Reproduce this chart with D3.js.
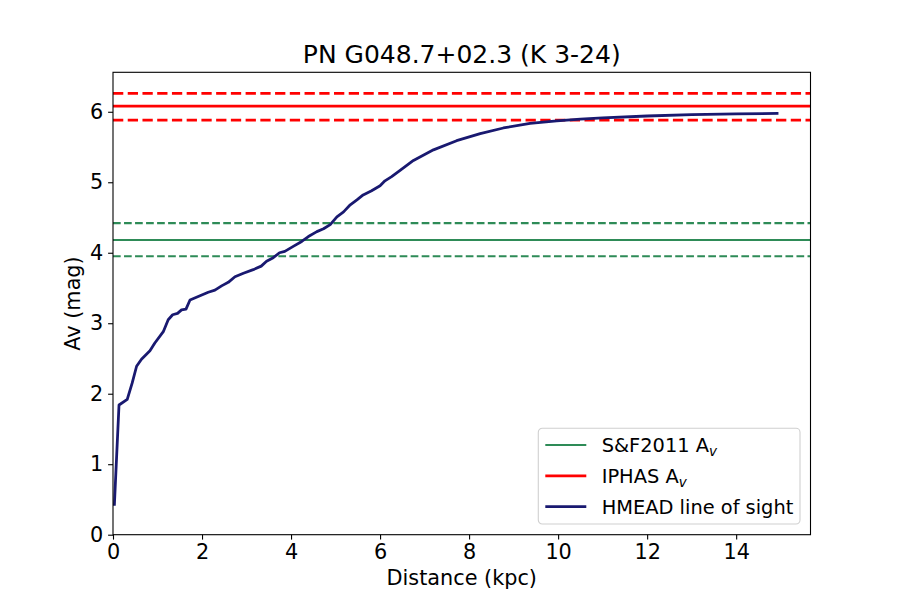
<!DOCTYPE html>
<html>
<head>
<meta charset="utf-8">
<script src="https://cdn.jsdelivr.net/npm/d3@7"></script>
<style>
  body { margin: 0; background: #fff; }
  svg { font-family: "DejaVu Sans", sans-serif; }
</style>
</head>
<body>
<svg id="chart" width="900" height="600"></svg>
<script>
// HMEAD line of sight
const distance = [0.03, 0.135, 0.32, 0.43, 0.53, 0.64, 0.83, 0.94, 1.13, 1.24, 1.34, 1.45, 1.54, 1.64,
  1.73, 1.955, 2.14, 2.29, 2.44, 2.59, 2.74, 2.93, 3.15, 3.33, 3.45, 3.6, 3.74, 3.86, 4.05, 4.24,
  4.39, 4.58, 4.73, 4.88, 5.03, 5.18, 5.33, 5.48, 5.62, 5.81, 6.0, 6.11, 6.26, 6.45, 6.75, 7.2,
  7.72, 8.25, 8.77, 9.37, 9.97, 10.5, 11.0, 12.0, 13.0, 14.0, 14.95];
const av = [0.41, 1.84, 1.92, 2.15, 2.39, 2.49, 2.61, 2.72, 2.88, 3.05, 3.12, 3.14, 3.19, 3.20,
  3.33, 3.39, 3.44, 3.47, 3.53, 3.58, 3.66, 3.71, 3.76, 3.81, 3.88, 3.93, 4.00, 4.02, 4.09, 4.16,
  4.23, 4.30, 4.34, 4.40, 4.51, 4.58, 4.68, 4.75, 4.82, 4.88, 4.95, 5.02, 5.08, 5.17, 5.31, 5.46,
  5.59, 5.69, 5.77, 5.835, 5.87, 5.897, 5.915, 5.94, 5.958, 5.970, 5.977];

// [value, lower, upper]
const sfAv = [4.18, 3.95, 4.42];
const iphasAv = [6.08, 5.88, 6.26];

const xTicks = [0, 2, 4, 6, 8, 10, 12, 14];
const yTicks = [0, 1, 2, 3, 4, 5, 6];

const svg = d3.select("#chart");
const margin = { top: 72.3, right: 89.5, bottom: 65.3, left: 113 };
const width = +svg.attr("width") - margin.left - margin.right;
const height = +svg.attr("height") - margin.top - margin.bottom;

const x = d3.scaleLinear().domain([0, 15.67]).range([0, width]);
const y = d3.scaleLinear().domain([0, 6.56]).range([height, 0]);

const g = svg.append("g")
    .attr("transform", "translate(" + margin.left + "," + margin.top + ")");

// horizontal reference lines
function hline(val, color, lw, dashed) {
  g.append("line")
      .attr("x1", 0).attr("x2", width)
      .attr("y1", y(val)).attr("y2", y(val))
      .attr("stroke", color)
      .attr("stroke-width", lw)
      .attr("stroke-dasharray", dashed ? (3.7 * lw) + "," + (1.6 * lw) : null);
}
hline(sfAv[0], "seagreen", 2.08, false);
hline(sfAv[1], "seagreen", 2.08, true);
hline(sfAv[2], "seagreen", 2.08, true);
hline(iphasAv[0], "red", 2.78, false);
hline(iphasAv[1], "red", 2.78, true);
hline(iphasAv[2], "red", 2.78, true);

const line = d3.line()
    .x((d, i) => x(distance[i]))
    .y(d => y(d));

g.append("path")
    .datum(av)
    .attr("fill", "none")
    .attr("stroke", "midnightblue")
    .attr("stroke-width", 2.78)
    .attr("stroke-linejoin", "round")
    .attr("d", line);

// axes
const xAxis = g.append("g")
    .attr("transform", "translate(0," + height + ")")
    .call(d3.axisBottom(x).tickValues(xTicks).tickFormat(d3.format("d"))
      .tickSize(4.9).tickPadding(4.9).tickSizeOuter(0));
const yAxis = g.append("g")
    .call(d3.axisLeft(y).tickValues(yTicks).tickFormat(d3.format("d"))
      .tickSize(4.9).tickPadding(4.9).tickSizeOuter(0));

[xAxis, yAxis].forEach(a => {
  a.select(".domain").remove();
  a.selectAll(".tick line").attr("stroke", "#000").attr("stroke-width", 1.1);
  a.selectAll(".tick text")
      .attr("fill", "#000")
      .style("font-size", "20.8px")
      .style("font-family", "DejaVu Sans");
});

// frame
g.append("rect")
    .attr("width", width).attr("height", height)
    .attr("fill", "none")
    .attr("stroke", "#000")
    .attr("stroke-width", 1.1);

// labels
svg.append("text")
    .attr("x", margin.left + width / 2)
    .attr("y", 63)
    .attr("text-anchor", "middle")
    .style("font-size", "25px")
    .text("PN G048.7+02.3 (K 3-24)");

svg.append("text")
    .attr("x", margin.left + width / 2)
    .attr("y", 585)
    .attr("text-anchor", "middle")
    .style("font-size", "20.8px")
    .text("Distance (kpc)");

svg.append("text")
    .attr("transform", "translate(79.5," + (margin.top + height / 2) + ") rotate(-90)")
    .attr("text-anchor", "middle")
    .style("font-size", "20.8px")
    .text("Av (mag)");

// legend
const legendItems = [
  { label: "S&F2011 A", sub: "v", color: "seagreen", lw: 2.08 },
  { label: "IPHAS A", sub: "v", color: "red", lw: 2.78 },
  { label: "HMEAD line of sight", sub: null, color: "midnightblue", lw: 2.78 }
];

const legend = svg.append("g").attr("transform", "translate(538.3,428.3)");
legend.append("rect")
    .attr("width", 261.7).attr("height", 95.7)
    .attr("rx", 4).attr("ry", 4)
    .attr("fill", "#fff").attr("fill-opacity", 0.8)
    .attr("stroke", "#d0d0d0").attr("stroke-width", 1.1);

legendItems.forEach((d, i) => {
  const cy = 16.7 + i * 30.8;
  legend.append("line")
      .attr("x1", 7).attr("x2", 48)
      .attr("y1", cy).attr("y2", cy)
      .attr("stroke", d.color)
      .attr("stroke-width", d.lw);
  const t = legend.append("text")
      .attr("x", 63.4).attr("y", cy + 7)
      .style("font-size", "19.4px")
      .text(d.label);
  if (d.sub) {
    t.append("tspan")
        .attr("dy", 4)
        .style("font-size", "13.5px")
        .style("font-style", "italic")
        .text(d.sub);
  }
});
</script>
</body>
</html>
